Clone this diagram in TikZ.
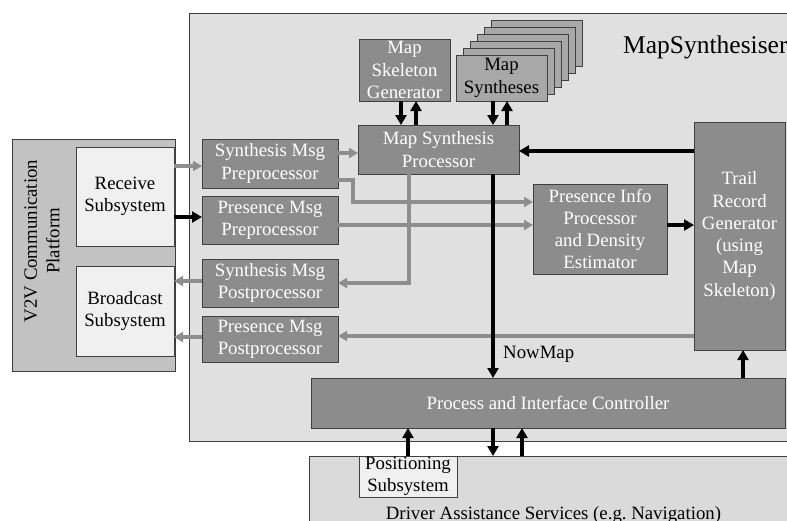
\documentclass[tikz,border=0pt]{standalone}
\usepackage{fontspec}
\setmainfont{Liberation Serif}
\usetikzlibrary{arrows.meta,calc}
\definecolor{bgc}{HTML}{E0E0E0}
\definecolor{dkc}{HTML}{8C8C8C}
\definecolor{mdc}{HTML}{C2C2C2}
\definecolor{ltc}{HTML}{F0F0F0}
\definecolor{sync}{HTML}{A8A8A8}
\definecolor{drvc}{HTML}{DADADA}
\definecolor{edgec}{HTML}{404040}
\definecolor{garr}{HTML}{8E8E8E}
\newcommand\bx[7]{\node[#6, minimum width={#4-#2}, minimum height={#5-#3}] (#1) at ({(#2+#4)/2},{(#3+#5)/2}) {#7};}
\tikzset{
  basebox/.style={draw=edgec, line width=0.9pt, inner sep=0pt, outer sep=0pt, align=center,
    font=\fontsize{18.8}{22.3}\selectfont},
  darkbox/.style={basebox, fill=dkc, text=white},
  lightbox/.style={basebox, fill=ltc, text=black},
  synbox/.style={basebox, fill=sync, text=black},
  outerbox/.style={basebox, fill=bgc},
  v2vbox/.style={basebox, fill=mdc},
  drvbox/.style={basebox, fill=drvc},
  blk/.style={line width=3.8pt, draw=black, -{Triangle[length=10pt,width=11pt]}},
  gry/.style={line width=3.1pt, draw=garr, -{Triangle[length=9pt,width=10pt]}},
  lbl/.style={font=\fontsize{18.8}{22.3}\selectfont, inner sep=0pt},
}
\begin{document}
\begin{tikzpicture}[x=1pt,y=-1pt]
\useasboundingbox (0,0) rectangle (787,520);
\clip (0,0) rectangle (787,520);
\fill[white] (0,0) rectangle (787,520);
% outer boxes
\bx{ms}{189}{13}{800}{441}{outerbox}{}
\node[lbl, font=\fontsize{25.5}{30}\selectfont, anchor=base west] (mslbl) at (623,53) {MapSynthesiser};
\bx{drv}{309}{456}{800}{560}{drvbox}{}
\node[lbl, anchor=base] (drvlbl) at (553.5,519.5) {Driver Assistance Services (e.g.\ Navigation)};
\bx{v2v}{12}{139}{175}{371}{v2vbox}{}
\node[lbl, rotate=90, align=center] (v2vlbl) at (42,241) {V2V Communication\\Platform};
% left boxes
\bx{rcv}{76}{147}{174}{246}{lightbox}{Receive\\Subsystem}
\bx{bc}{76}{266}{174}{356}{lightbox}{Broadcast\\Subsystem}
% msg processors
\bx{synpre}{202}{139}{338}{188}{darkbox}{Synthesis Msg\\Preprocessor}
\bx{prespre}{202}{196}{338}{244}{darkbox}{Presence Msg\\Preprocessor}
\bx{synpost}{202}{259}{338}{307}{darkbox}{Synthesis Msg\\Postprocessor}
\bx{prespost}{202}{316}{338}{362}{darkbox}{Presence Msg\\Postprocessor}
% top
\bx{skel}{359}{39}{450}{101}{darkbox}{Map\\Skeleton\\Generator}
\bx{synE}{491}{20}{582}{66}{synbox}{}
\bx{synD}{484}{27}{575}{73}{synbox}{}
\bx{synC}{477}{34}{568}{80}{synbox}{}
\bx{synB}{470}{41}{561}{87}{synbox}{}
\bx{synA}{463}{48}{554}{94}{synbox}{}
\bx{syn}{456}{55}{547}{101}{synbox}{Map\\Syntheses}
\bx{msp}{358}{125}{519}{174}{darkbox}{Map Synthesis\\Processor}
\bx{pip}{533}{184}{667}{274}{darkbox}{Presence Info\\Processor\\and Density\\Estimator}
\bx{trail}{694}{122}{785}{350}{darkbox}{Trail\\Record\\Generator\\(using\\Map\\Skeleton)}
\bx{ctrl}{311}{378}{785}{428}{darkbox}{Process and Interface Controller}
\bx{pos}{359}{456}{457}{497}{lightbox}{Positioning\\Subsystem}
% gray connectors
\draw[gry] ([yshift=-2.5pt]synpre.west -| rcv.east) -- ([yshift=-2.5pt]synpre.west);
\draw[gry] ([yshift=2pt]synpost.west) -- ([yshift=2pt]synpost.west -| bc.east);
\draw[gry] ([yshift=2pt]prespost.west) -- ([yshift=2pt]prespost.west -| bc.east);
\draw[gry] ([yshift=10.5pt]synpre.east) -- ([yshift=10.5pt]synpre.east -| msp.west);
\draw[gry] ([yshift=-16.5pt]synpre.east) -- ++(15,0) |- ([yshift=27pt]pip.west);
\draw[gry] ([yshift=-5pt]prespre.east) -- ([yshift=-5pt]prespre.east -| pip.west);
\draw[gry] ([xshift=-29.5pt]msp.south) |- (synpost.east);
\draw[gry] ([yshift=-100pt]trail.west) -- ([yshift=-100pt]trail.west -| prespost.east);
% black connectors
\draw[blk] ([yshift=-20.5pt]rcv.east) -- ([yshift=-20.5pt]rcv.east -| prespre.west);
\draw[blk] ([xshift=-3.5pt]skel.south) -- ([xshift=-3.5pt]skel.south |- msp.north);
\draw[blk] ([xshift=11.5pt]skel.south |- msp.north) -- ([xshift=11.5pt]skel.south);
\draw[blk] ([xshift=-8.5pt]syn.south) -- ([xshift=-8.5pt]syn.south |- msp.north);
\draw[blk] ([xshift=5.5pt]syn.south |- msp.north) -- ([xshift=5.5pt]syn.south);
\draw[blk] ([yshift=-1.5pt]msp.east -| trail.west) -- ([yshift=-1.5pt]msp.east);
\draw[blk] ([yshift=4pt]pip.east) -- ([yshift=4pt]pip.east -| trail.west);
\draw[blk] ([xshift=54.5pt]msp.south) -- ([xshift=54.5pt]msp.south |- ctrl.north);
\node[lbl, anchor=base west] (nowmap) at (503,358) {NowMap};
\draw[blk] ([xshift=3.5pt]trail.south |- ctrl.north) -- ([xshift=3.5pt]trail.south);
\draw[blk] (pos.north) -- (pos.north |- ctrl.south);
\draw[blk] ([xshift=-55pt]ctrl.south) -- ([xshift=-55pt]ctrl.south |- drv.north);
\draw[blk] ([xshift=-26pt]ctrl.south |- drv.north) -- ([xshift=-26pt]ctrl.south);
\end{tikzpicture}
\end{document}
